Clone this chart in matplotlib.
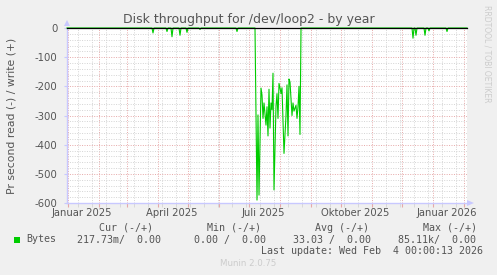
import datetime as dt
import matplotlib
matplotlib.use("Agg")
import matplotlib.pyplot as plt
import matplotlib.dates as mdates
import matplotlib.transforms as mtransforms
from matplotlib.patches import Rectangle, Polygon

# ---------------- data ----------------
title = "Disk throughput for /dev/loop2 - by year"
ylabel = "Pr second read (-) / write (+)"
start_date = dt.datetime(2024, 12, 31)
end_date = dt.datetime(2026, 2, 4, 0, 0, 13)

# isolated small read dips (day offset from start_date, value)
dip_days = [86, 100, 105, 113, 120, 133, 170, 346, 349, 358, 362, 380]
dip_values = [-17, -12, -30, -25, -15, -5, -12, -35, -25, -25, -10, -12]

# busy period (day offsets, value)
block_days = [188, 190, 191, 192, 194, 195, 196, 197, 199, 200, 201, 202, 203,
              204, 205, 206, 207, 209, 210, 211, 212, 213, 214, 215, 216, 217,
              219, 220, 221, 222, 223, 224, 225, 226, 227, 229, 230, 231, 232,
              233, 234]
block_values = [0, -590, -298, -573, -206, -230, -310, -257, -333, -270, -370,
                -210, -343, -257, -280, -155, -555, -268, -225, -310, -190,
                -205, -225, -205, -323, -430, -300, -195, -370, -175, -185,
                -240, -300, -257, -285, -265, -310, -270, -200, -365, 0]

yticks = [0, -100, -200, -300, -400, -500, -600]
xlabel_months = [(2025, 1), (2025, 4), (2025, 7), (2025, 10), (2026, 1)]
month_names = {1: "Januar", 4: "April", 7: "Juli", 10: "Oktober"}

legend_name = "Bytes"
legend_headers = ["Cur (-/+)", "Min (-/+)", "Avg (-/+)", "Max (-/+)"]
legend_values = ["217.73m/  0.00", "0.00 /  0.00", "33.03 /  0.00", "85.11k/  0.00"]
last_update = "Last update: Wed Feb  4 00:00:13 2026"
munin_version = "Munin 2.0.75"
side_text = "RRDTOOL / TOBI OETIKER"

# ---------------- build series ----------------
total_days = (end_date - start_date).days
series = {d: 0.0 for d in range(total_days + 1) if not (block_days[0] <= d <= block_days[-1])}
for d, v in zip(dip_days, dip_values):
    series[d] = v
for d, v in zip(block_days, block_values):
    series[d] = v
days_sorted = sorted(series)
xs = [start_date + dt.timedelta(days=d) for d in days_sorted]
ys = [series[d] for d in days_sorted]

# ---------------- figure ----------------
W, H = 497, 275
fig = plt.figure(figsize=(W / 100, H / 100), dpi=100, facecolor="#f0f0f0")


def fx(x):
    return x / W


def fy(y):
    return 1 - y / H


L, R, T, B = 67, 467, 28, 203
ax = fig.add_axes([fx(L), fy(B), fx(R) - fx(L), fy(T) - fy(B)])
ax.set_facecolor("white")

# grid / ticks
major_ticks = []
d = dt.datetime(2025, 1, 1)
while d <= end_date:
    major_ticks.append(mdates.date2num(d))
    d = dt.datetime(d.year + (d.month == 12), d.month % 12 + 1, 1)
minor_ticks = []
k = 0
while True:
    d = start_date + dt.timedelta(days=11 + 14 * k)
    if d > end_date:
        break
    minor_ticks.append(mdates.date2num(d))
    k += 1
ax.set_xticks(major_ticks)
ax.set_xticks(minor_ticks, minor=True)
ax.set_yticks(yticks)
ax.set_yticks(list(range(-600, 1, 20)), minor=True)
ax.set_xlim(start_date, end_date)
ax.set_ylim(-600, 0)

ax.grid(which="major", color="#e6a8a8", linestyle=(0, (1, 1.5)), linewidth=0.7)
ax.grid(which="minor", color="#d4d4d4", linestyle=(0, (1, 1.5)), linewidth=0.7)
ax.set_axisbelow(True)

ax.set_xticklabels([])
ax.tick_params(axis="x", which="major", length=3, color="#e6a8a8", direction="out")
ax.tick_params(axis="x", which="minor", length=3, color="#d4d4d4", direction="out")
ax.tick_params(axis="y", which="major", length=2, color="#c8c8ff", pad=5,
               labelsize=7.3, labelcolor="#555555")
ax.tick_params(axis="y", which="minor", length=0)
ax.set_yticklabels([str(t) for t in yticks], family="DejaVu Sans")

for s in ["top", "right"]:
    ax.spines[s].set_visible(False)
for s in ["left", "bottom"]:
    ax.spines[s].set_color("#c8c8ff")
    ax.spines[s].set_linewidth(1.0)

# month labels centred on mid-month
blend = mtransforms.blended_transform_factory(ax.transData, fig.transFigure)
for (yy, mm) in xlabel_months:
    xd = mdates.date2num(dt.datetime(yy, mm, 15))
    ax.text(xd, fy(212.5), f"{month_names[mm]} {yy}", transform=blend,
            ha="center", va="center", fontsize=7.2, color="#555555",
            family="DejaVu Sans", clip_on=False)

# data
ax.plot(xs, ys, color="#00cc00", linewidth=0.8, zorder=3, clip_on=False)
ax.axhline(0, color="black", linewidth=0.9, zorder=4, clip_on=False)

# axis arrows
fig.patches.append(Polygon(
    [(fx(64), fy(26)), (fx(70), fy(26)), (fx(67), fy(20))], closed=True,
    transform=fig.transFigure, facecolor="#c8c8ff", edgecolor="none"))
fig.patches.append(Polygon(
    [(fx(467), fy(200)), (fx(467), fy(206)), (fx(474), fy(203))], closed=True,
    transform=fig.transFigure, facecolor="#c8c8ff", edgecolor="none"))

# texts
fig.text(fx(249), fy(19), title, ha="center", va="center", fontsize=9.0,
         color="#555555", family="DejaVu Sans")
fig.text(fx(12), fy(115.5), ylabel, ha="center", va="center", rotation=90,
         fontsize=7.8, color="#555555", family="DejaVu Sans")
fig.text(fx(487), fy(5), side_text, ha="center", va="top", rotation=270,
         fontsize=5.5, color="#cccccc", family="DejaVu Sans")

mono = dict(family="DejaVu Sans Mono", fontsize=7.2, color="#555555", va="center")
header_x = [99, 207, 315, 423]
value_x = [77, 194, 293, 398]
for h, x in zip(legend_headers, header_x):
    fig.text(fx(x), fy(228), h, ha="left", **mono)
fig.patches.append(Rectangle((fx(14), fy(242.5)), fx(6), fy(236.5) - fy(242.5),
                             transform=fig.transFigure, facecolor="#00cc00",
                             edgecolor="none"))
fig.text(fx(26), fy(239.5), legend_name, ha="left", **mono)
for v, x in zip(legend_values, value_x):
    fig.text(fx(x), fy(239.5), v, ha="left", **mono)
fig.text(fx(483), fy(251), last_update, ha="right", **mono)
fig.text(fx(248), fy(264), munin_version, ha="center", va="center",
         fontsize=6.2, color="#cccccc", family="DejaVu Sans")

fig.savefig("out.png", dpi=100, facecolor=fig.get_facecolor())
